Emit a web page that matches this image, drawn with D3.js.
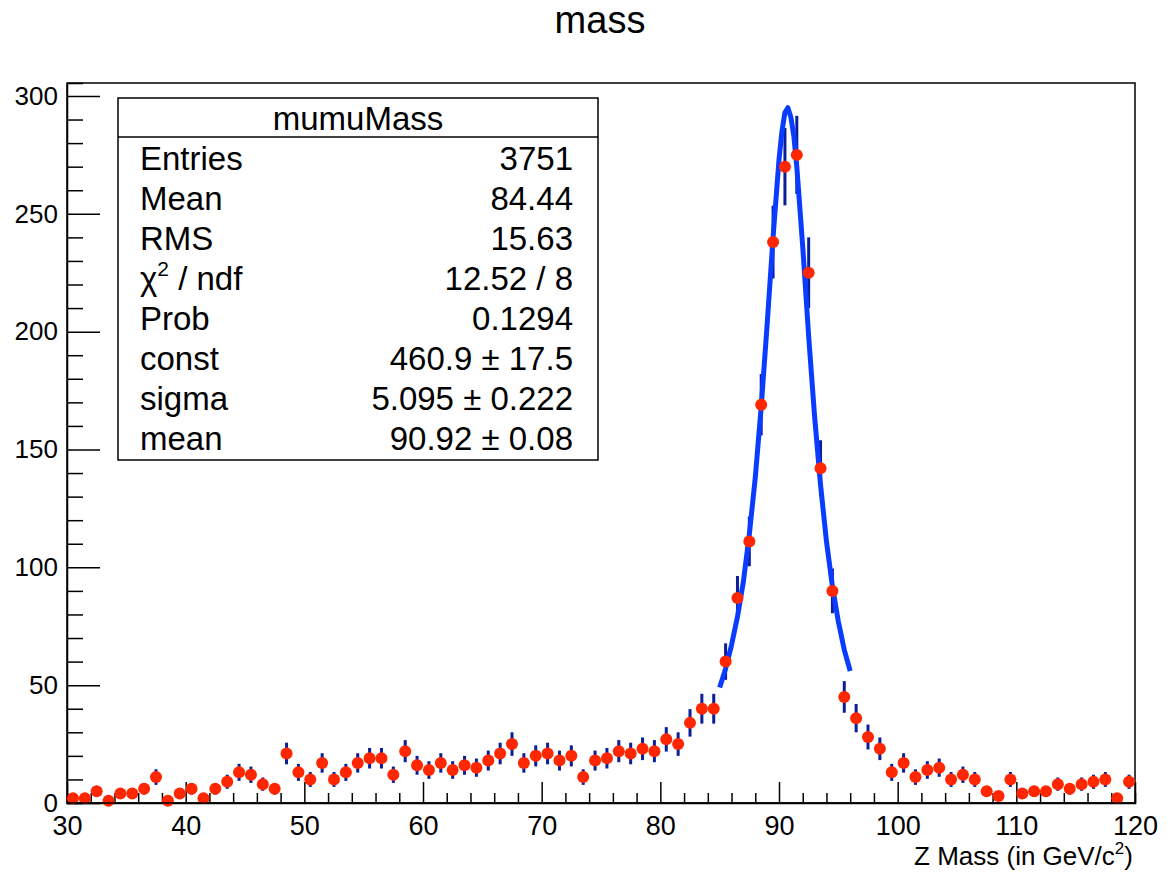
<!DOCTYPE html>
<html>
<head>
<meta charset="utf-8">
<script src="https://cdn.jsdelivr.net/npm/d3@7"></script>
<style>
  html, body { margin: 0; padding: 0; background: #fff; }
  svg { display: block; font-family: "Liberation Sans", Arial, Helvetica, sans-serif; }
</style>
</head>
<body>
<svg id="chart" width="1168" height="873"></svg>
<script>
// ---------- data ----------
const chartTitle = "mass";
const histName = "mumuMass";
const binCenters = [
  30.5,31.5,32.5,33.5,34.5,35.5,36.5,37.5,38.5,39.5,
  40.5,41.5,42.5,43.5,44.5,45.5,46.5,47.5,48.5,49.5,
  50.5,51.5,52.5,53.5,54.5,55.5,56.5,57.5,58.5,59.5,
  60.5,61.5,62.5,63.5,64.5,65.5,66.5,67.5,68.5,69.5,
  70.5,71.5,72.5,73.5,74.5,75.5,76.5,77.5,78.5,79.5,
  80.5,81.5,82.5,83.5,84.5,85.5,86.5,87.5,88.5,89.5,
  90.5,91.5,92.5,93.5,94.5,95.5,96.5,97.5,98.5,99.5,
  100.5,101.5,102.5,103.5,104.5,105.5,106.5,107.5,108.5,109.5,
  110.5,111.5,112.5,113.5,114.5,115.5,116.5,117.5,118.5,119.5
];
const binCounts = [
  2,2,5,1,4,4,6,11,1,4,
  6,2,6,9,13,12,8,6,21,13,
  10,17,10,13,17,19,19,12,22,16,
  14,17,14,16,15,18,21,25,17,20,
  21,18,20,11,18,19,22,21,23,22,
  27,25,34,40,40,60,87,111,169,238,
  270,275,225,142,90,45,36,28,23,13,
  17,11,14,15,10,12,10,5,3,10,
  4,5,5,8,6,8,9,10,2,9
];
// fit curve
const fitX = [85,85.5,86,86.5,87,87.5,88,88.5,89,89.5,90,90.25,90.5,90.75,91,91.25,91.5,92,92.5,93,93.5,94,94.5,95,95.5,96];
const fitY = [49,57,67,79,94,114,138,168,203,240,273,285,293,295,291,283,270,236,198,164,135,111,92,77,65,56];

const xTicksMajor = [30,40,50,60,70,80,90,100,110,120];
const yTicksMajor = [0,50,100,150,200,250,300];

const statLabels = ["Entries","Mean","RMS","χ2 / ndf","Prob","const","sigma","mean"];
const statValues = ["3751","84.44","15.63","12.52 / 8","0.1294","460.9 ± 17.5","5.095 ± 0.222","90.92 ± 0.08"];

// ---------- layout ----------
const W = 1168, H = 873;
const L = 67, R = 1135, T = 83, B = 803;
const FONT = "Liberation Sans, Arial, sans-serif";
const svg = d3.select("#chart");
svg.append("rect").attr("width", W).attr("height", H).attr("fill", "#fff");

const x = d3.scaleLinear().domain([30, 120]).range([L, R]);
const y = d3.scaleLinear().domain([0, 305.5]).range([B, T]);

// frame
svg.append("rect").attr("x", L).attr("y", T).attr("width", R - L).attr("height", B - T)
  .attr("fill", "none").attr("stroke", "#000").attr("stroke-width", 1.5);

// x axis (ticks pointing up)
const xAxis = d3.axisBottom(x).tickValues(d3.range(30, 120.001, 2))
  .tickSize(-10).tickFormat(d => xTicksMajor.includes(d) ? d : "").tickPadding(14);
const gx = svg.append("g").attr("transform", `translate(0,${B})`).call(xAxis);
gx.select(".domain").attr("stroke", "#000").attr("stroke-width", 1.5);
gx.selectAll(".tick line").attr("stroke", "#000").attr("stroke-width", 1.5)
  .attr("y2", d => xTicksMajor.includes(d) ? -21 : -10);
gx.selectAll(".tick text").attr("font-size", 27).attr("fill", "#000")
  .attr("font-family", FONT).attr("y", 13).attr("dy", "0.71em");

// y axis (ticks pointing right)
const yAxis = d3.axisLeft(y).tickValues(d3.range(0, 300.001, 10))
  .tickSize(-16).tickFormat(d => yTicksMajor.includes(d) ? d : "").tickPadding(10);
const gy = svg.append("g").attr("transform", `translate(${L},0)`).call(yAxis);
gy.select(".domain").attr("stroke", "#000").attr("stroke-width", 1.5);
gy.selectAll(".tick line").attr("stroke", "#000").attr("stroke-width", 1.5)
  .attr("x2", d => yTicksMajor.includes(d) ? 33 : 16);
gy.selectAll(".tick text").attr("font-size", 26).attr("fill", "#000")
  .attr("font-family", FONT).attr("x", -9);

// error bars
const pts = binCenters.map((c, i) => ({ c, n: binCounts[i] }));
svg.append("g").selectAll("line.err").data(pts).join("line")
  .attr("x1", d => x(d.c)).attr("x2", d => x(d.c))
  .attr("y1", d => y(Math.max(0, d.n - Math.sqrt(d.n))))
  .attr("y2", d => y(d.n + Math.sqrt(d.n)))
  .attr("stroke", "#0a1e9a").attr("stroke-width", 3);

// fit curve
const line = d3.line().x(d => x(d[0])).y(d => y(d[1])).curve(d3.curveLinear);
svg.append("path").datum(fitX.map((v, i) => [v, fitY[i]]))
  .attr("d", line).attr("fill", "none").attr("stroke", "#0a3cff")
  .attr("stroke-width", 5).attr("stroke-linejoin", "round");

// markers
svg.append("g").selectAll("circle").data(pts).join("circle")
  .attr("cx", d => x(d.c)).attr("cy", d => y(d.n)).attr("r", 6)
  .attr("fill", "#ff2600");

svg.append("line").attr("x1", L).attr("x2", R).attr("y1", B).attr("y2", B)
  .attr("stroke", "#000").attr("stroke-width", 1.5);

// title
svg.append("text").attr("x", 600).attr("y", 33).attr("text-anchor", "middle")
  .attr("font-size", 38).text(chartTitle);

// x axis title with superscript
const xt = svg.append("text").attr("x", 1133).attr("y", 865).attr("text-anchor", "end")
  .attr("font-size", 26);
xt.append("tspan").text("Z Mass (in GeV/c");
xt.append("tspan").attr("font-size", 17).attr("dy", -11).text("2");
xt.append("tspan").attr("dy", 11).text(")");

// stats box
const bx = 118, by = 98, bw = 480, bh = 362;
svg.append("rect").attr("x", bx).attr("y", by).attr("width", bw).attr("height", bh)
  .attr("fill", "#fff").attr("stroke", "#000").attr("stroke-width", 1.5);
svg.append("line").attr("x1", bx).attr("x2", bx + bw).attr("y1", 137).attr("y2", 137)
  .attr("stroke", "#000").attr("stroke-width", 1.5);
svg.append("text").attr("x", bx + bw / 2).attr("y", 130).attr("text-anchor", "middle")
  .attr("font-size", 33).text(histName);

statLabels.forEach((lab, i) => {
  const yy = 170 + i * 40;
  const t = svg.append("text").attr("x", 140).attr("y", yy).attr("font-size", 33);
  if (lab.startsWith("χ2")) {
    t.append("tspan").text("χ");
    t.append("tspan").attr("font-size", 21).attr("dy", -14).text("2");
    t.append("tspan").attr("dy", 14).text(" / ndf");
  } else {
    t.text(lab);
  }
  svg.append("text").attr("x", 573).attr("y", yy).attr("text-anchor", "end")
    .attr("font-size", 33).text(statValues[i]);
});
</script>
</body>
</html>
